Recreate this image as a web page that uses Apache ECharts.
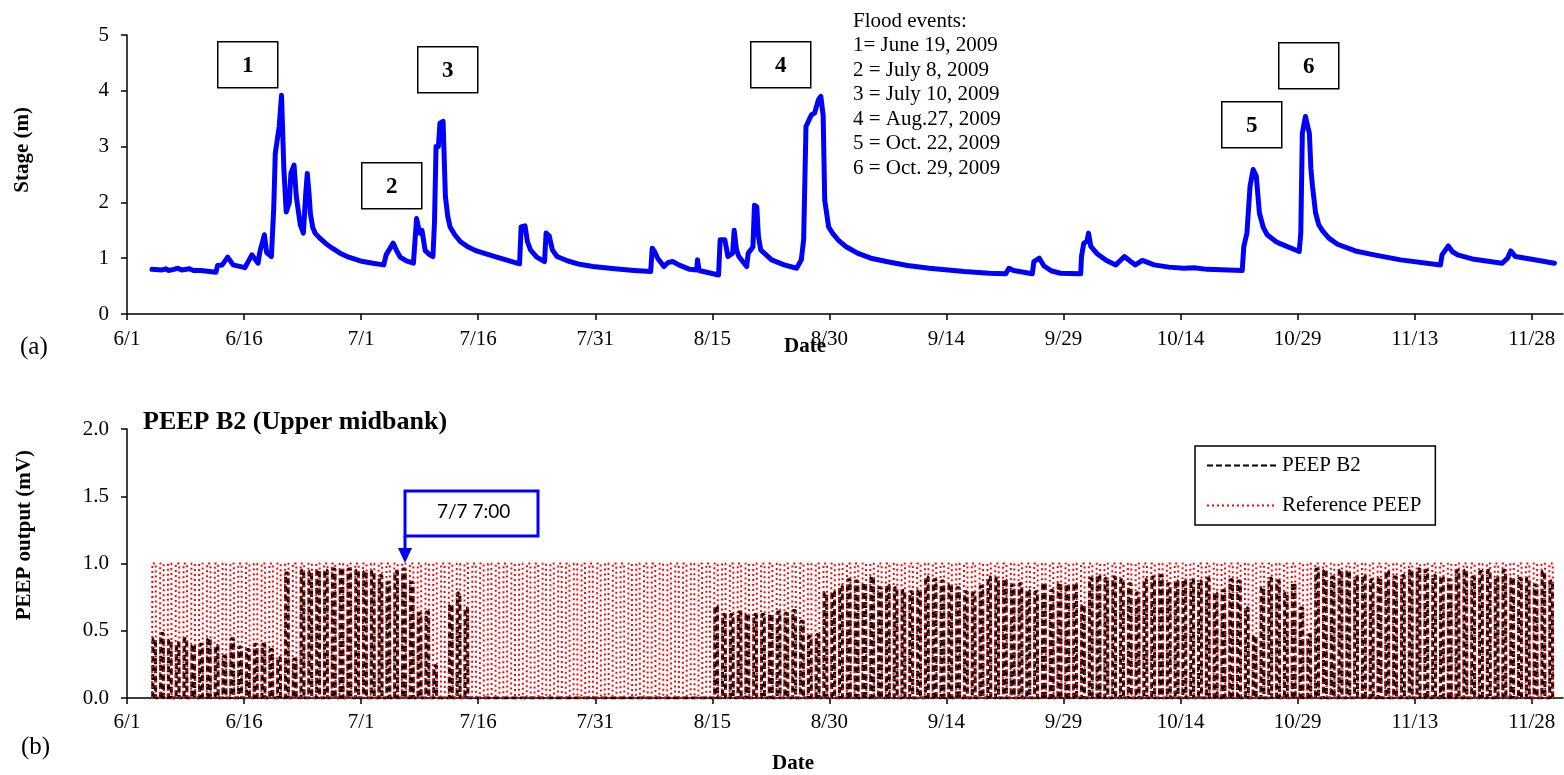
<!DOCTYPE html>
<html>
<head>
<meta charset="utf-8">
<script src="https://cdn.jsdelivr.net/npm/echarts@6/dist/echarts.min.js"></script>
<style>
html, body { margin: 0; padding: 0; background: #fff; }
#chart { width: 1564px; height: 775px; }
</style>
</head>
<body>
<div id="chart"></div>
<script>
// x values are days counted from 6/1/2009
const tickLabels = ['6/1', '6/16', '7/1', '7/16', '7/31', '8/15', '8/30', '9/14', '9/29', '10/14', '10/29', '11/13', '11/28'];
const tickDays = [0, 15, 30, 45, 60, 75, 90, 105, 120, 135, 150, 165, 180];

// (a) stage record [day, m]
const stagePoints = [
  [3.2, 0.80], [4.5, 0.79], [5.0, 0.81], [5.3, 0.78], [6.0, 0.80], [6.5, 0.82], [7.0, 0.79], [8.0, 0.81], [8.5, 0.78], [9.5, 0.78],
  [11.4, 0.75], [11.6, 0.87], [12.2, 0.88], [12.9, 1.02], [13.6, 0.88], [15.1, 0.83], [16.0, 1.06], [16.8, 0.91], [17.0, 1.10], [17.6, 1.42],
  [17.9, 1.10], [18.5, 1.03], [18.8, 1.89], [19.0, 2.88], [19.5, 3.36], [19.8, 3.92], [20.0, 3.90], [20.1, 2.60], [20.4, 1.83], [20.8, 2.00],
  [21.0, 2.52], [21.4, 2.67], [21.7, 2.10], [22.2, 1.60], [22.6, 1.45], [22.9, 2.16], [23.1, 2.52], [23.3, 2.20], [23.5, 1.80], [23.8, 1.55],
  [24.1, 1.45], [24.7, 1.36], [25.5, 1.26], [26.4, 1.17], [27.3, 1.09], [28.2, 1.03], [29.9, 0.95], [31.5, 0.91], [32.9, 0.88], [33.2, 1.06],
  [34.1, 1.27], [34.6, 1.12], [35.0, 1.02], [35.8, 0.95], [36.7, 0.91], [37.1, 1.71], [37.5, 1.45], [37.8, 1.50], [38.2, 1.14], [38.7, 1.07],
  [39.2, 1.03], [39.4, 1.65], [39.6, 3.00], [39.9, 3.00], [40.1, 3.42], [40.5, 3.45], [40.8, 2.10], [41.1, 1.75], [41.4, 1.56], [42.0, 1.42],
  [42.7, 1.30], [43.6, 1.21], [44.6, 1.14], [45.7, 1.09], [47.8, 1.00], [50.3, 0.90], [50.5, 1.56], [51.0, 1.58], [51.3, 1.30], [51.7, 1.15],
  [52.5, 1.02], [53.5, 0.94], [53.7, 1.45], [54.1, 1.40], [54.5, 1.15], [55.1, 1.03], [56.5, 0.95], [58.0, 0.89], [59.7, 0.85], [62.5, 0.81],
  [65.0, 0.78], [67.1, 0.76], [67.3, 1.18], [67.6, 1.12], [68.0, 1.00], [68.8, 0.85], [69.3, 0.92], [69.9, 0.94], [70.7, 0.88], [72.1, 0.80],
  [73.0, 0.79], [73.1, 0.97], [73.3, 0.78], [75.8, 0.70], [76.0, 1.33], [76.6, 1.33], [77.0, 1.03], [77.6, 1.09], [77.8, 1.50], [78.1, 1.15],
  [78.4, 1.03], [79.4, 0.85], [79.6, 1.09], [80.2, 1.20], [80.4, 1.95], [80.7, 1.92], [80.9, 1.40], [81.2, 1.15], [82.6, 0.97], [84.2, 0.88],
  [85.8, 0.82], [86.4, 0.97], [86.7, 1.33], [87.0, 3.36], [87.7, 3.57], [88.1, 3.60], [88.6, 3.84], [88.9, 3.90], [89.2, 3.56], [89.4, 2.04],
  [89.9, 1.56], [90.4, 1.45], [91.1, 1.33], [92.2, 1.20], [93.6, 1.09], [95.3, 1.00], [97.3, 0.94], [100.0, 0.87], [102.8, 0.82], [107.3, 0.76],
  [110.5, 0.73], [112.6, 0.72], [113.0, 0.82], [113.6, 0.78], [116.0, 0.72], [116.2, 0.94], [116.9, 1.00], [117.5, 0.86], [118.5, 0.77], [119.6, 0.73],
  [122.2, 0.72], [122.3, 1.03], [122.6, 1.27], [123.0, 1.30], [123.2, 1.45], [123.5, 1.21], [124.3, 1.08], [125.5, 0.96], [126.7, 0.88], [127.8, 1.03],
  [128.6, 0.94], [129.2, 0.88], [130.1, 0.96], [131.6, 0.88], [133.5, 0.84], [135.4, 0.82], [136.7, 0.83], [138.4, 0.80], [142.9, 0.78], [143.1, 1.21],
  [143.5, 1.45], [143.9, 2.29], [144.3, 2.59], [144.7, 2.47], [145.1, 1.81], [145.6, 1.55], [146.1, 1.42], [147.2, 1.30], [147.6, 1.27], [150.2, 1.12],
  [150.4, 1.45], [150.6, 3.24], [151.0, 3.54], [151.5, 3.24], [151.7, 2.60], [151.9, 2.29], [152.3, 1.81], [152.7, 1.60], [153.2, 1.49], [154.0, 1.36],
  [155.1, 1.25], [157.4, 1.13], [159.8, 1.06], [163.2, 0.97], [168.3, 0.88], [168.5, 1.06], [169.3, 1.22], [169.8, 1.12], [170.5, 1.06], [172.6, 0.98],
  [176.2, 0.91], [176.9, 1.00], [177.3, 1.13], [177.9, 1.03], [180.0, 0.98], [182.9, 0.91]
];

// (b) daily PEEP peaks (mV), first value is day 3 (6/4)
const peepStartDay = 3;
const b2Peak = [
  0.44, 0.48, 0.43, 0.41, 0.44, 0.39, 0.40, 0.44, 0.39, 0.31,
  0.44, 0.38, 0.36, 0.40, 0.40, 0.36, 0.30, 0.93, 0.29, 0.95,
  0.94, 0.95, 0.95, 0.96, 0.96, 0.96, 0.95, 0.94, 0.94, 0.91,
  0.86, 0.94, 0.96, 0.86, 0.63, 0.64, 0.24, 0.00, 0.69, 0.78,
  0.67, 0.00, 0.00, 0.00, 0.00, 0.00, 0.00, 0.00, 0.00, 0.00,
  0.00, 0.00, 0.00, 0.00, 0.00, 0.00, 0.00, 0.00, 0.00, 0.00,
  0.00, 0.00, 0.00, 0.00, 0.00, 0.00, 0.00, 0.00, 0.00, 0.00,
  0.00, 0.00, 0.68, 0.62, 0.62, 0.64, 0.62, 0.62, 0.62, 0.62,
  0.64, 0.63, 0.65, 0.57, 0.46, 0.47, 0.78, 0.79, 0.83, 0.88,
  0.87, 0.85, 0.90, 0.82, 0.84, 0.82, 0.80, 0.79, 0.80, 0.90,
  0.88, 0.87, 0.84, 0.82, 0.79, 0.78, 0.83, 0.90, 0.89, 0.88,
  0.84, 0.85, 0.80, 0.79, 0.85, 0.80, 0.85, 0.84, 0.85, 0.69,
  0.89, 0.91, 0.89, 0.90, 0.88, 0.85, 0.78, 0.88, 0.90, 0.91,
  0.85, 0.87, 0.88, 0.88, 0.87, 0.89, 0.78, 0.80, 0.88, 0.87,
  0.67, 0.46, 0.82, 0.89, 0.87, 0.78, 0.85, 0.67, 0.47, 0.96,
  0.95, 0.90, 0.95, 0.94, 0.90, 0.91, 0.88, 0.89, 0.94, 0.90,
  0.91, 0.95, 0.96, 0.95, 0.91, 0.90, 0.88, 0.95, 0.95, 0.90,
  0.94, 0.95, 0.90, 0.95, 0.89, 0.89, 0.89, 0.84, 0.94, 0.87
];
const refPeak = [
  1.00, 1.00, 1.00, 1.00, 1.00, 1.00, 1.00, 1.00, 1.00, 1.00,
  1.00, 1.00, 1.00, 1.00, 1.00, 1.00, 1.00, 1.00, 1.00, 1.00,
  1.00, 1.00, 1.00, 1.00, 1.00, 1.00, 1.00, 1.00, 1.00, 1.00,
  1.00, 1.00, 1.00, 1.00, 1.00, 1.00, 1.00, 1.00, 1.00, 1.00,
  1.00, 1.00, 1.00, 1.00, 1.00, 1.00, 1.00, 1.00, 1.00, 1.00,
  1.00, 1.00, 1.00, 1.00, 1.00, 1.00, 1.00, 1.00, 1.00, 1.00,
  1.00, 1.00, 1.00, 1.00, 1.00, 1.00, 1.00, 1.00, 1.00, 1.00,
  1.00, 1.00, 1.00, 1.00, 1.00, 1.00, 1.00, 1.00, 1.00, 1.00,
  1.00, 1.00, 1.00, 1.00, 1.00, 1.00, 1.00, 1.00, 1.00, 1.00,
  1.00, 1.00, 1.00, 1.00, 1.00, 1.00, 1.00, 1.00, 1.00, 1.00,
  1.00, 1.00, 1.00, 1.00, 1.00, 1.00, 1.00, 1.00, 1.00, 1.00,
  1.00, 1.00, 1.00, 1.00, 1.00, 1.00, 1.00, 1.00, 1.00, 1.00,
  1.00, 1.00, 1.00, 1.00, 1.00, 1.00, 1.00, 1.00, 1.00, 1.00,
  1.00, 1.00, 1.00, 1.00, 1.00, 1.00, 1.00, 1.00, 1.00, 1.00,
  1.00, 1.00, 1.00, 1.00, 1.00, 1.00, 1.00, 1.00, 1.00, 1.00,
  1.00, 1.00, 1.00, 1.00, 1.00, 1.00, 1.00, 1.00, 1.00, 1.00,
  1.00, 1.00, 1.00, 1.00, 1.00, 1.00, 1.00, 1.00, 1.00, 1.00,
  1.00, 1.00, 1.00, 1.00, 1.00, 1.00, 1.00, 1.00, 1.00, 1.00
];

const floodEvents = ['Flood events:', '1= June 19, 2009', '2 = July 8, 2009', '3 = July 10, 2009',
  '4 = Aug.27, 2009', '5 = Oct. 22, 2009', '6 = Oct. 29, 2009'];

const serif = "'Liberation Serif', 'Times New Roman', serif";

// one heating pulse per day, drawn from the daily peak
function dailyPulses(peaks, rise, fall) {
  const pts = [];
  peaks.forEach((p, i) => {
    const d = peepStartDay + i;
    pts.push([d + rise, 0], [d + rise + 0.03, p], [d + fall - 0.03, p], [d + fall, 0]);
  });
  return pts;
}

function xAxisOf(gridIndex, labelMargin) {
  return {
    type: 'value', gridIndex: gridIndex, min: 0, max: 184, interval: 15,
    axisLine: { lineStyle: { color: '#000', width: 1.5 } },
    axisTick: { inside: false, length: 6, customValues: tickDays, lineStyle: { color: '#000', width: 1.5 } },
    axisLabel: {
      customValues: tickDays, margin: labelMargin, color: '#000', fontFamily: serif, fontSize: 21,
      formatter: v => tickLabels[tickDays.indexOf(Math.round(v))] || ''
    },
    splitLine: { show: false }
  };
}

function yAxisOf(gridIndex, max, interval, fmt) {
  return {
    type: 'value', gridIndex: gridIndex, min: 0, max: max, interval: interval,
    axisLine: { show: true, lineStyle: { color: '#000', width: 1.5 } },
    axisTick: { show: true, length: 6, lineStyle: { color: '#000', width: 1.5 } },
    axisLabel: { margin: 18, color: '#000', fontFamily: serif, fontSize: 21, formatter: fmt },
    splitLine: { show: false }
  };
}

function boxText(label, x, y) {
  return {
    type: 'group', left: x, top: y,
    children: [
      { type: 'rect', shape: { x: 0, y: 0, width: 60, height: 46 }, style: { fill: '#fff', stroke: '#000', lineWidth: 1.5 } },
      { type: 'text', style: { x: 30, y: 24, text: label, fill: '#000', font: 'bold 23px ' + serif, textAlign: 'center', textVerticalAlign: 'middle' } }
    ]
  };
}

const chart = echarts.init(document.getElementById('chart'));
chart.setOption({
  animation: false,
  backgroundColor: '#fff',
  grid: [
    { left: 127, right: 1, top: 35, height: 279 },
    { left: 127, right: 1, top: 429, height: 269 }
  ],
  xAxis: [xAxisOf(0, 15), xAxisOf(1, 14)],
  yAxis: [
    yAxisOf(0, 5, 1, v => String(v)),
    yAxisOf(1, 2, 0.5, v => v.toFixed(1))
  ],
  legend: {
    data: ['PEEP B2', 'Reference PEEP'],
    orient: 'vertical', left: 1195, top: 446,
    itemWidth: 70, itemHeight: 14, itemGap: 19,
    padding: [9, 14, 9, 11],
    borderColor: '#000', borderWidth: 1.5, borderRadius: 0,
    itemStyle: { opacity: 0 },
    textStyle: { color: '#000', fontFamily: serif, fontSize: 21 }
  },
  series: [
    {
      name: 'Stage', type: 'line', xAxisIndex: 0, yAxisIndex: 0,
      data: stagePoints, showSymbol: false, symbol: 'none', smooth: false,
      lineStyle: { color: '#0000ff', width: 5, cap: 'round', join: 'round' }
    },
    {
      name: 'PEEP B2', type: 'line', xAxisIndex: 1, yAxisIndex: 1,
      data: dailyPulses(b2Peak, 0.3, 0.68), showSymbol: false, symbol: 'none',
      itemStyle: { color: '#000' },
      lineStyle: { color: '#000', width: 3, type: [6, 3] }
    },
    {
      name: 'Reference PEEP', type: 'line', xAxisIndex: 1, yAxisIndex: 1,
      data: dailyPulses(refPeak, 0.22, 0.72), showSymbol: false, symbol: 'none',
      itemStyle: { color: '#ff0000' },
      lineStyle: { color: '#ff0000', width: 2, type: [2, 3] }
    }
  ],
  graphic: [
    { type: 'text', left: 12, top: 107, rotation: Math.PI / 2,
      style: { text: 'Stage (m)', fill: '#000', font: 'bold 21px ' + serif } },
    { type: 'text', left: 14, top: 450, rotation: Math.PI / 2,
      style: { text: 'PEEP output (mV)', fill: '#000', font: 'bold 21px ' + serif } },
    { type: 'text', left: 784, top: 336, style: { text: 'Date', fill: '#000', font: 'bold 21px ' + serif } },
    { type: 'text', left: 772, top: 753, style: { text: 'Date', fill: '#000', font: 'bold 21px ' + serif } },
    { type: 'text', left: 20, top: 335, style: { text: '(a)', fill: '#000', font: '25px ' + serif } },
    { type: 'text', left: 21, top: 735, style: { text: '(b)', fill: '#000', font: '25px ' + serif } },
    { type: 'text', left: 143, top: 409, style: { text: 'PEEP B2 (Upper midbank)', fill: '#000', font: 'bold 26px ' + serif } },
    { type: 'text', left: 853, top: 9, style: { text: floodEvents.join('\n'), fill: '#000', font: '21px ' + serif, lineHeight: 24.5 } },
    boxText('1', 217, 41),
    boxText('2', 361, 162),
    boxText('3', 417, 46),
    boxText('4', 750, 41),
    boxText('5', 1221, 101),
    boxText('6', 1278, 42),
    { type: 'rect', shape: { x: 405, y: 491, width: 133, height: 45 }, style: { fill: '#fff', stroke: '#0000ff', lineWidth: 3 } },
    { type: 'text', left: 437, top: 502, style: { text: '7/7 7:00', fill: '#000', font: '19px Lato, sans-serif' } },
    { type: 'line', shape: { x1: 405, y1: 536, x2: 405, y2: 550 }, style: { stroke: '#0000ff', lineWidth: 3 } },
    { type: 'polygon', shape: { points: [[398, 548], [412, 548], [405, 563]] }, style: { fill: '#0000ff' } }
  ]
});
</script>
</body>
</html>
